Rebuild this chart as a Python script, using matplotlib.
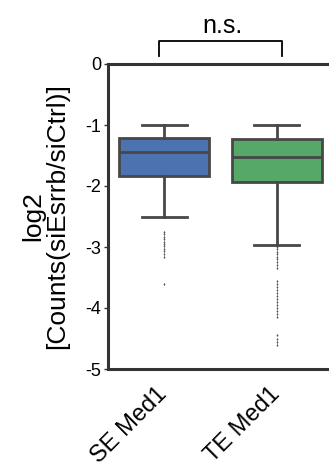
import matplotlib
matplotlib.use("Agg")
import matplotlib.pyplot as plt
from matplotlib.transforms import ScaledTranslation

plt.rcParams['font.family'] = ['Liberation Sans', 'DejaVu Sans']

labels = ["SE Med1", "TE Med1"]
colors = ["#4c72b0", "#55a868"]
whislo = [-2.51, -2.96]
q1 = [-1.84, -1.93]
med = [-1.45, -1.52]
q3 = [-1.22, -1.23]
whishi = [-1.0, -1.0]
fliers_se = [-2.75, -2.79, -2.83, -2.87, -2.91, -2.95, -2.99, -3.03, -3.07, -3.11, -3.16, -3.61]
fliers_te = [-3.0, -3.04, -3.08, -3.12, -3.16, -3.2, -3.25, -3.3, -3.35,
             -3.55, -3.6, -3.65, -3.7, -3.75, -3.8, -3.85, -3.9, -3.95, -4.0,
             -4.05, -4.1, -4.15, -4.45, -4.5, -4.55, -4.6]
fliers = [fliers_se, fliers_te]

stats = []
for i in range(2):
    stats.append(dict(label=labels[i], whislo=whislo[i], q1=q1[i], med=med[i],
                      q3=q3[i], whishi=whishi[i], fliers=fliers[i]))

edge = "#474747"
fig = plt.figure(figsize=(3.29, 4.68), dpi=100)
ax = fig.add_axes([108 / 329, 99 / 468, 225 / 329, 305 / 468])

bp = ax.bxp(stats, positions=[0, 1], widths=0.8, patch_artist=True,
            boxprops=dict(edgecolor=edge, linewidth=2),
            medianprops=dict(color=edge, linewidth=2),
            whiskerprops=dict(color=edge, linewidth=2),
            capprops=dict(color=edge, linewidth=2),
            capwidths=0.4,
            flierprops=dict(marker='d', markersize=1.6, markerfacecolor='#555555',
                            markeredgecolor='none'))
for patch, c in zip(bp['boxes'], colors):
    patch.set_facecolor(c)

ax.set_xlim(-0.5, 1.5)
ax.set_ylim(-5, 0)
ax.set_yticks([0, -1, -2, -3, -4, -5])
ax.set_yticklabels(["0", "-1", "-2", "-3", "-4", "-5"], fontsize=13)
ax.set_xticks([0, 1])
ax.set_xticklabels([])
# rotated category labels, placed below the axis
offset = ScaledTranslation(-0.005, -0.215, fig.dpi_scale_trans)
for i, lab in enumerate(labels):
    ax.text(i, 0, lab, transform=ax.get_xaxis_transform() + offset,
            fontsize=17, rotation=45, ha='right', va='center',
            rotation_mode='anchor')
ax.tick_params(axis='x', length=0)
ax.tick_params(axis='y', length=3, width=1, pad=2, color='#333333')
for s in ax.spines.values():
    s.set_linewidth(2.2)
    s.set_color('#333333')
ax.spines['right'].set_visible(False)

# significance bracket
ax.plot([-0.047, -0.047, 1.047, 1.047], [0.13, 0.38, 0.38, 0.13],
        color='black', linewidth=1.3, clip_on=False)
ax.text(0.52, 0.42, "n.s.", ha='center', va='bottom', fontsize=18)

fig.text(45 / 329, 1 - 216 / 468, "log2\n[Counts(siEsrrb/siCtrl)]",
         rotation=90, ha='center', va='center', fontsize=19,
         multialignment='center', linespacing=1.0)

plt.savefig("out.png", dpi=100)
